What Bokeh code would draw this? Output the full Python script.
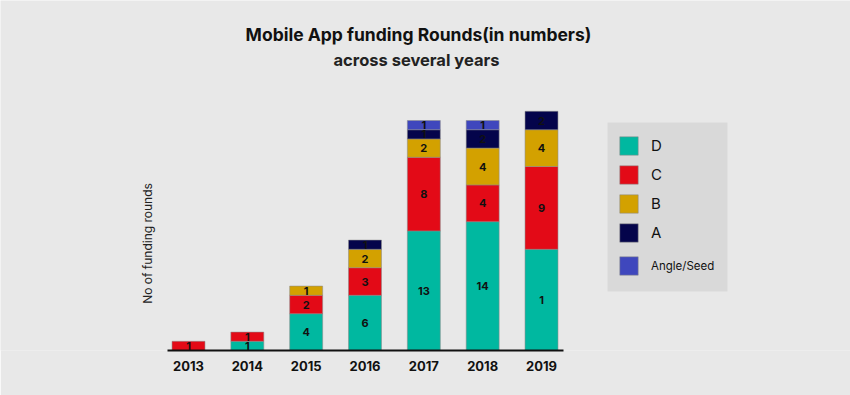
import numpy as np
from bokeh.plotting import figure
from bokeh.models import Range1d, FixedTicker, Label, Legend, LegendItem, BoxAnnotation, ColumnDataSource
from bokeh.core.properties import value
from bokeh.embed import file_html
from bokeh.resources import INLINE

# ---------------- data ----------------
years = ["2013", "2014", "2015", "2016", "2017", "2018", "2019"]
round_d = [0, 1, 4, 6, 13, 14, 11]
round_c = [1, 1, 2, 3, 8, 4, 9]
round_b = [0, 0, 1, 2, 2, 4, 4]
round_a = [0, 0, 0, 1, 1, 2, 2]
round_seed = [0, 0, 0, 0, 1, 1, 0]
series_names = ["D", "C", "B", "A", "Angle/Seed"]
series_colors = ["#00b8a0", "#e30a17", "#d3a100", "#04044b", "#3f47bd"]
# segment labels as printed in the picture (2019's D segment reads "1")
label_overrides = {("D", "2019"): "1"}

title_1 = "Mobile App funding Rounds(in numbers)"
title_2 = "across several years"
y_label = "No of funding rounds"

# ---------------- layout (page pixels) ----------------
FONT = "Inter"
W, H = 850, 395
AX_L, AX_R, BASE = 167, 563, 350          # axis line extent and baseline
BG = "#e8e8e8"
xc_first, xc_last = 188.0, 541.0           # pixel centres of first/last bar
px_per_cat = (xc_last - xc_first) / (len(years) - 1)
px_per_unit = 9.2


def dx(page_x):
    return (page_x - xc_first) / px_per_cat


def dy(page_y):
    return (BASE - page_y) / px_per_unit


p = figure(width=W, height=H, x_range=Range1d(dx(0), dx(W)), y_range=Range1d(0, dy(0)),
           output_backend="svg", toolbar_location=None, y_axis_location=None,
           min_border_left=0, min_border_right=0, min_border_top=0, min_border_bottom=H - BASE)
p.background_fill_color = BG
p.border_fill_color = BG
p.outline_line_color = None
p.xgrid.visible = False
p.ygrid.visible = False

xs = np.arange(len(years))
p.xaxis.ticker = FixedTicker(ticks=[int(i) for i in xs])
p.xaxis.major_label_overrides = {int(i): y for i, y in zip(xs, years)}
p.xaxis.bounds = (dx(AX_L), dx(AX_R))
p.xaxis.axis_line_color = "#111111"
p.xaxis.axis_line_width = 2
p.xaxis.major_tick_line_color = None
p.xaxis.minor_tick_line_color = None
p.xaxis.major_label_standoff = 4
p.xaxis.major_label_text_font = FONT
p.xaxis.major_label_text_font_style = "bold"
p.xaxis.major_label_text_font_size = "13px"
p.xaxis.major_label_text_color = "#111111"

# ---------------- stacked bars ----------------
series_values = [round_d, round_c, round_b, round_a, round_seed]
bottom = np.zeros(len(years))
renderers = []
lab_x, lab_y, lab_t = [], [], []
for name, vals, col in zip(series_names, series_values, series_colors):
    vals = np.array(vals, dtype=float)
    top = bottom + vals
    mask = vals > 0
    src = ColumnDataSource(dict(x=xs[mask], bottom=bottom[mask], top=top[mask]))
    r = p.vbar(x="x", width=0.56, bottom="bottom", top="top", source=src,
               fill_color=col, line_color="#8a8a8a", line_alpha=0.55, line_width=1)
    renderers.append(r)
    for i in np.where(mask)[0]:
        lab_x.append(xs[i])
        lab_y.append((bottom[i] + top[i]) / 2)
        lab_t.append(label_overrides.get((name, years[i]), str(int(vals[i]))))
    bottom = top

p.text(x=lab_x, y=lab_y, text=lab_t, text_align="center", text_baseline="middle",
       text_font=value(FONT), text_font_style="bold", text_font_size="11px", text_color="#111111")

# ---------------- legend ----------------
box = BoxAnnotation(left=dx(607), right=dx(727), top=dy(122), bottom=dy(291),
                    fill_color="#d9d9d9", fill_alpha=1.0, line_color=None)
p.add_layout(box)

leg1 = Legend(items=[LegendItem(label=n, renderers=[r]) for n, r in zip(series_names[:4], renderers[:4])],
              location=(605, BASE - 256), orientation="vertical",
              background_fill_alpha=0, border_line_alpha=0, glyph_width=23, glyph_height=23,
              label_standoff=11, spacing=6, padding=12, margin=0,
              label_text_font=FONT, label_text_font_size="15px", label_text_color="#111111")
leg2 = Legend(items=[LegendItem(label=series_names[4], renderers=[renderers[4]])],
              location=(605, BASE - 289), orientation="vertical",
              background_fill_alpha=0, border_line_alpha=0, glyph_width=23, glyph_height=23,
              label_standoff=11, spacing=6, padding=12, margin=0,
              label_text_font=FONT, label_text_font_size="11.5px", label_text_color="#111111")
p.add_layout(leg1)
p.add_layout(leg2)

# ---------------- titles ----------------
p.add_layout(Label(x=dx(418), y=dy(34), text=title_1, text_align="center", text_baseline="middle",
                   text_font=FONT, text_font_style="bold", text_font_size="17.5px", text_color="#111111"))
p.add_layout(Label(x=dx(416), y=dy(59), text=title_2, text_align="center", text_baseline="middle",
                   text_font=FONT, text_font_style="bold", text_font_size="16.5px", text_color="#222222"))
p.add_layout(Label(x=dx(147), y=dy(243), text=y_label, angle=np.pi / 2, text_align="center",
                   text_baseline="middle", text_font=FONT, text_font_size="12px", text_color="#222222"))

open("out.html", "w").write(file_html(p, INLINE))
